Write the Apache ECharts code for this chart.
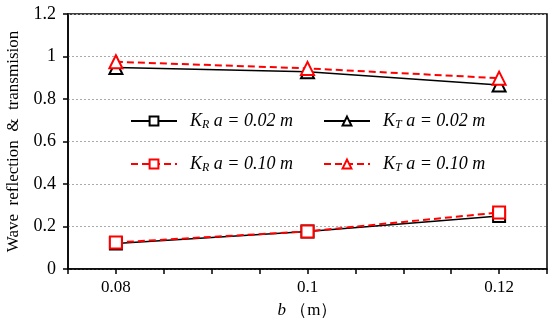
<!DOCTYPE html>
<html><head><meta charset="utf-8">
<script src="https://cdn.jsdelivr.net/npm/echarts@6/dist/echarts.min.js"></script>
<style>html,body{margin:0;padding:0;background:#fff}#c{width:550px;height:327px}</style>
</head><body><div id="c"></div>
<script>
const xValues = [0.08, 0.1, 0.12];
const kr002 = [0.12, 0.176, 0.249];
const kt002 = [0.948, 0.928, 0.866];
const kr010 = [0.125, 0.177, 0.266];
const kt010 = [0.975, 0.944, 0.898];
const shownXLabels = ['0.08', '0.1', '0.12'];
const yTitle = 'Wave  reflection  &  transmision';

const FONT = 'Liberation Serif';
const pairs = a => xValues.map((x, i) => [x, a[i]]);
const chart = echarts.init(document.getElementById('c'));
const richLeg = {
  k: {fontFamily: FONT, fontStyle: 'italic', fontSize: 18, color: '#000'},
  s: {fontFamily: FONT, fontStyle: 'italic', fontSize: 12, color: '#000', verticalAlign: 'bottom', padding: [8, 0, 0, 0]},
  t: {fontFamily: FONT, fontStyle: 'italic', fontSize: 18, color: '#000'}
};
const names = ['KR002', 'KT002', 'KR010', 'KT010'];
const labels = {
  KR002: '{k|K}{s|R}{t| a = 0.02 m}',
  KT002: '{k|K}{s|T}{t| a = 0.02 m}',
  KR010: '{k|K}{s|R}{t| a = 0.10 m}',
  KT010: '{k|K}{s|T}{t| a = 0.10 m}'
};
const legPos = [[125, 107], [318, 107], [125, 150], [318, 150]];
const legends = names.map((n, i) => ({
  data: [n], left: legPos[i][0], top: legPos[i][1], itemWidth: 46, itemHeight: 11, itemGap: 0,
  formatter: v => labels[v], textStyle: {rich: richLeg, padding: [0, 0, 0, 8]}
}));
function ser(name, data, color, symbol, dashed, z) {
  return {
    name, type: 'line', data: pairs(data), symbol, symbolSize: symbol === 'triangle' ? 13 : 12,
    z,
    lineStyle: {color, width: dashed ? 2 : 1.5, type: dashed ? [7, 4] : 'solid'},
    itemStyle: {color: '#fff', borderColor: color, borderWidth: 2},
    emphasis: {disabled: true}
  };
}
chart.setOption({
  animation: false,
  legend: legends,
  grid: {left: 68, right: 3, top: 14, bottom: 58, outerBoundsMode: 'none', containLabel: false, show: true, borderColor: '#000', borderWidth: 1.5},
  xAxis: {
    type: 'value', min: 0.075, max: 0.125, interval: 0.005,
    axisLine: {lineStyle: {color: '#000', width: 1.5}},
    axisTick: {show: true, length: 5, lineStyle: {color: '#000', width: 1.5}},
    splitLine: {show: false},
    axisLabel: {
      fontFamily: FONT, fontSize: 17, color: '#000', margin: 10,
      formatter: v => { const s = String(Number(v.toFixed(3))); return shownXLabels.includes(s) ? s : ''; }
    },
    name: '{i|b}{n| （m）}', nameLocation: 'middle', nameGap: 33,
    nameTextStyle: {rich: {i: {fontFamily: FONT, fontStyle: 'italic', fontSize: 17, color: '#000'}, n: {fontFamily: FONT, fontSize: 17, color: '#000'}}}
  },
  yAxis: {
    type: 'value', min: 0, max: 1.2, interval: 0.2,
    axisLine: {show: true, lineStyle: {color: '#000', width: 1.5}},
    axisTick: {show: true, length: 5, lineStyle: {color: '#000', width: 1.5}},
    splitLine: {show: true, lineStyle: {color: '#aaa', type: [2, 2], width: 1}},
    axisLabel: {fontFamily: FONT, fontSize: 18, color: '#000', margin: 12, formatter: v => String(Number(v.toFixed(2)))},
    name: yTitle, nameLocation: 'middle', nameGap: 46,
    nameTextStyle: {fontFamily: FONT, fontSize: 17, color: '#000'}
  },
  series: [
    ser('KR002', kr002, '#000', 'rect', false, 2),
    ser('KT002', kt002, '#000', 'triangle', false, 2),
    ser('KR010', kr010, '#ff0000', 'rect', true, 3),
    ser('KT010', kt010, '#ff0000', 'triangle', true, 3)
  ]
});
</script></body></html>
